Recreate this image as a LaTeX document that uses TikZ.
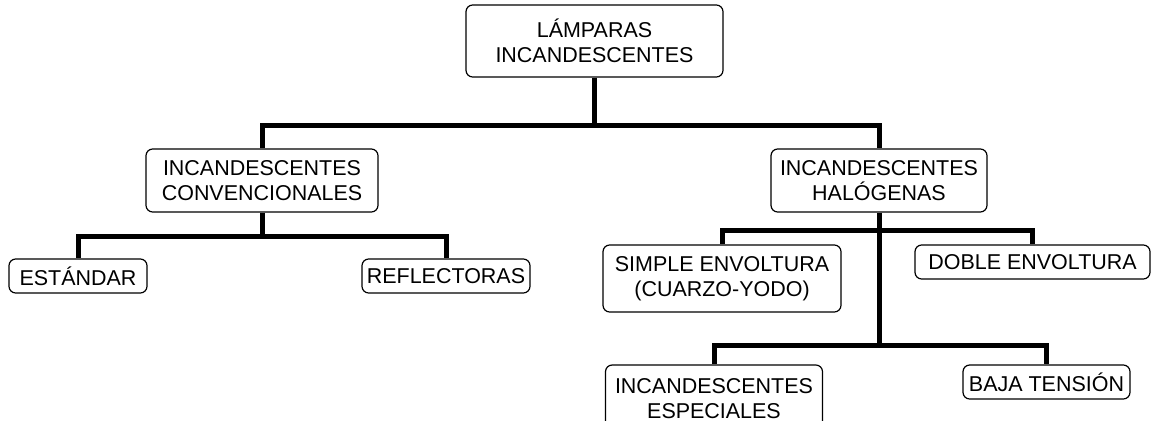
\documentclass[tikz,border=0pt]{standalone}
\usepackage{fontspec}
\setmainfont{Liberation Sans}
\usepackage{tikz}
\usetikzlibrary{calc}

\tikzset{
  caja/.style 2 args={draw, rounded corners=5pt, line width=0.9pt, align=center,
    inner sep=0pt, minimum width=#1*0.75pt, minimum height=#2*0.75pt,
    font=\fontsize{16.1}{18.75}\selectfont},
  rama/.style={line width=3.75pt}
}

\begin{document}
\begin{tikzpicture}[x=0.75pt,y=-0.75pt]
  % 1 unidad = 1 px de la imagen (1158 x 421)
  \useasboundingbox (0,0) rectangle (1158,421);
  \node[caja={257}{72}] (lamp) at (594.5,41) {LÁMPARAS\\INCANDESCENTES};
  \node[caja={232}{63}] (conv) at (262,180.5) {INCANDESCENTES\\CONVENCIONALES};
  \node[caja={216}{63}] (halog) at (879,180.5) {INCANDESCENTES\\HALÓGENAS};
  \node[caja={138}{34}] (est) at (78,276) {ESTÁNDAR};
  \node[caja={168}{34}] (refl) at (446,276) {REFLECTORAS};
  \node[caja={238}{67}] (simple) at (722,278.5) {SIMPLE ENVOLTURA\\(CUARZO-YODO)};
  \node[caja={235}{34}] (doble) at (1032.5,262) {DOBLE ENVOLTURA};
  \node[caja={217}{67}] (espec) at (714,398.5) {INCANDESCENTES\\ESPECIALES};
  \node[caja={167}{34}] (baja) at (1046.5,382) {BAJA TENSIÓN};
  % niveles de las barras
  \coordinate (b1) at (0,125);
  \coordinate (b2) at (0,236);
  \coordinate (b3) at (0,230);
  \coordinate (b4) at (0,345);
  \draw[rama] (lamp.south) -- (lamp.south |- b1) -| (conv.north);
  \draw[rama] (lamp.south |- b1) -| (halog.north);
  \draw[rama] (conv.south) -- (conv.south |- b2) -| (est.north);
  \draw[rama] (conv.south |- b2) -| (refl.north);
  \draw[rama] (halog.south) -- (halog.south |- b4);
  \draw[rama] (halog.south |- b3) -| (simple.north);
  \draw[rama] (halog.south |- b3) -| (doble.north);
  \draw[rama] (halog.south |- b4) -| (espec.north);
  \draw[rama] (halog.south |- b4) -| (baja.north);
\end{tikzpicture}
\end{document}
